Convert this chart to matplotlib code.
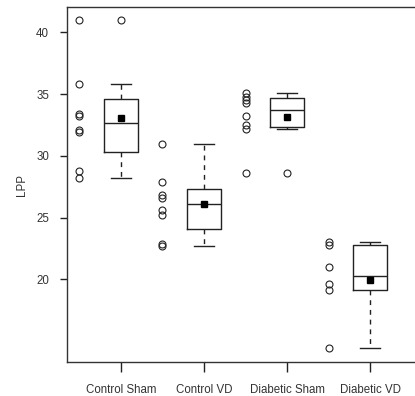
import numpy as np
import matplotlib
matplotlib.use("Agg")
import matplotlib.pyplot as plt

groups = ["Control Sham", "Control VD", "Diabetic Sham", "Diabetic VD"]
control_sham = [41.0, 35.8, 33.4, 33.2, 32.1, 31.9, 28.8, 28.2]
control_vd = [31.0, 27.9, 26.8, 26.6, 25.6, 25.2, 22.9, 22.7]
diabetic_sham = [35.1, 34.8, 34.5, 34.3, 33.2, 32.5, 32.2, 28.6]
diabetic_vd = [23.0, 22.8, 21.0, 19.6, 19.1, 14.4]
data = [control_sham, control_vd, diabetic_sham, diabetic_vd]
yticks = [20, 25, 30, 35, 40]


def fivenum(x):
    # Tukey hinges, same as R's fivenum
    x = np.sort(np.asarray(x, dtype=float))
    n = len(x)
    n4 = np.floor((n + 3) / 2) / 2
    d = np.array([1, n4, (n + 1) / 2, n + 1 - n4, n]) - 1
    return 0.5 * (x[np.floor(d).astype(int)] + x[np.ceil(d).astype(int)])


def box_stats(x):
    x = np.asarray(x, dtype=float)
    _, q1, med, q3, _ = fivenum(x)
    iqr = q3 - q1
    lo, hi = q1 - 1.5 * iqr, q3 + 1.5 * iqr
    inside = x[(x >= lo) & (x <= hi)]
    return dict(med=med, q1=q1, q3=q3, whislo=inside.min(), whishi=inside.max(),
                fliers=x[(x < lo) | (x > hi)], mean=x.mean())


plt.rcParams['font.family'] = ['Liberation Sans', 'DejaVu Sans']
fig = plt.figure(figsize=(4.15, 3.96), dpi=100)
ax = fig.add_axes([67 / 415, 34 / 396, 357 / 415, 355 / 396])

pos = np.arange(1, len(groups) + 1)
stats = [box_stats(d) for d in data]
lc = "#222222"
ax.bxp(stats, positions=pos, widths=0.4, showmeans=True, showfliers=True,
       boxprops=dict(color=lc, linewidth=1.0),
       medianprops=dict(color=lc, linewidth=1.0),
       whiskerprops=dict(color=lc, linewidth=1.0, linestyle=(0, (3.5, 3.5))),
       capprops=dict(color=lc, linewidth=1.0),
       capwidths=0.24,
       flierprops=dict(marker='o', markerfacecolor='none', markeredgecolor=lc,
                       markersize=5, markeredgewidth=0.8),
       meanprops=dict(marker='s', markerfacecolor='black', markeredgecolor='black',
                      markersize=4.5))

# raw data strip next to each box
for p, d in zip(pos, data):
    ax.plot(np.full(len(d), p - 0.5), d, 'o', markerfacecolor='none',
            markeredgecolor=lc, markersize=5, markeredgewidth=0.8)

ax.set_xlim(0.35, 4.65)
ax.set_ylim(13.3, 42.06)
ax.set_yticks(yticks)
ax.set_xticks(pos)
ax.set_xticklabels(groups)
ax.set_ylabel("LPP", fontsize=8.3, labelpad=6, color="#333333")
ax.tick_params(axis='both', labelsize=8.3, colors=lc, labelcolor="#333333",
               length=5, width=1.0)
ax.tick_params(axis='y', pad=8)
ax.tick_params(axis='x', length=7, pad=9)
for s in ax.spines.values():
    s.set_color("#333333")
    s.set_linewidth(1.0)

fig.savefig("out.png", dpi=100)
